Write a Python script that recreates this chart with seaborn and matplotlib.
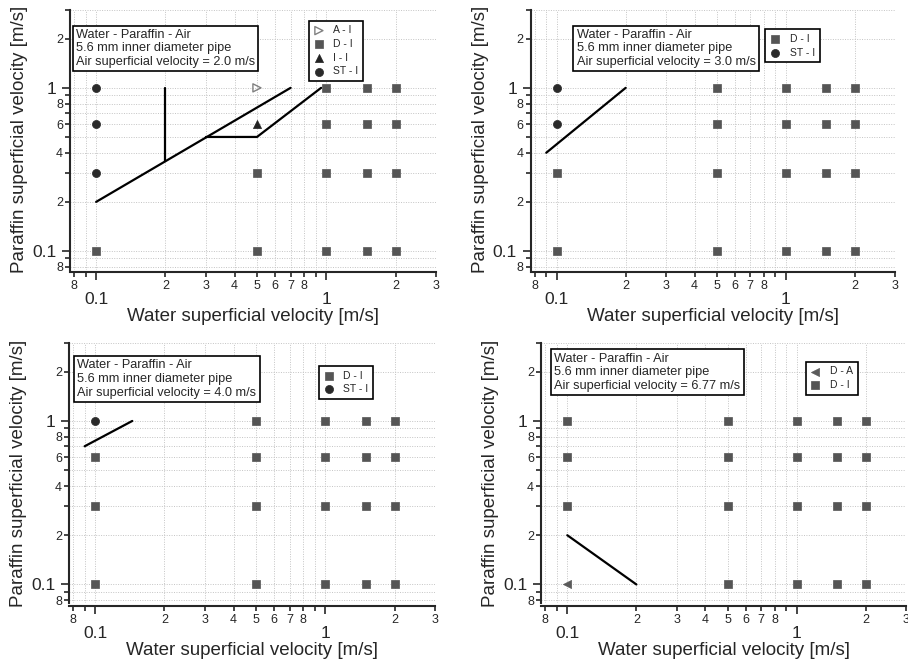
import matplotlib
matplotlib.use("Agg")
import matplotlib.pyplot as plt
import matplotlib.ticker as ticker
import seaborn as sns

# --- data (water / paraffin / air) ---
air_velocities = ["2.0", "3.0", "4.0", "6.77"]

# air = 2.0 m/s
water_a = [0.1, 0.1, 0.1, 0.5, 0.5, 0.1, 0.5, 0.5,
           1.0, 1.0, 1.0, 1.0, 1.5, 1.5, 1.5, 1.5, 2.0, 2.0, 2.0, 2.0]
paraffin_a = [0.3, 0.6, 1.0, 1.0, 0.6, 0.1, 0.1, 0.3,
              0.1, 0.3, 0.6, 1.0, 0.1, 0.3, 0.6, 1.0, 0.1, 0.3, 0.6, 1.0]
regime_a = ["ST - I", "ST - I", "ST - I", "A - I", "I - I", "D - I", "D - I", "D - I",
            "D - I", "D - I", "D - I", "D - I", "D - I", "D - I", "D - I", "D - I",
            "D - I", "D - I", "D - I", "D - I"]

# air = 3.0 m/s
water_b = [0.1, 0.1, 0.1, 0.1, 0.5, 0.5, 0.5, 0.5,
           1.0, 1.0, 1.0, 1.0, 1.5, 1.5, 1.5, 1.5, 2.0, 2.0, 2.0, 2.0]
paraffin_b = [0.6, 1.0, 0.1, 0.3, 0.1, 0.3, 0.6, 1.0,
              0.1, 0.3, 0.6, 1.0, 0.1, 0.3, 0.6, 1.0, 0.1, 0.3, 0.6, 1.0]
regime_b = ["ST - I", "ST - I"] + ["D - I"] * 18

# air = 4.0 m/s
water_c = [0.1, 0.1, 0.1, 0.1, 0.5, 0.5, 0.5, 0.5,
           1.0, 1.0, 1.0, 1.0, 1.5, 1.5, 1.5, 1.5, 2.0, 2.0, 2.0, 2.0]
paraffin_c = [1.0, 0.1, 0.3, 0.6, 0.1, 0.3, 0.6, 1.0,
              0.1, 0.3, 0.6, 1.0, 0.1, 0.3, 0.6, 1.0, 0.1, 0.3, 0.6, 1.0]
regime_c = ["ST - I"] + ["D - I"] * 19

# air = 6.77 m/s
water_d = [0.1, 0.1, 0.1, 0.1, 0.5, 0.5, 0.5, 0.5,
           1.0, 1.0, 1.0, 1.0, 1.5, 1.5, 1.5, 1.5, 2.0, 2.0, 2.0, 2.0]
paraffin_d = [0.1, 0.3, 0.6, 1.0, 0.1, 0.3, 0.6, 1.0,
              0.1, 0.3, 0.6, 1.0, 0.1, 0.3, 0.6, 1.0, 0.1, 0.3, 0.6, 1.0]
regime_d = ["D - A"] + ["D - I"] * 19

# transition boundaries (water x, paraffin y)
bounds_a = [([0.1, 0.7], [0.2, 1.0]),
            ([0.2, 0.2], [0.355, 1.0]),
            ([0.3, 0.5, 0.95], [0.5, 0.5, 1.0])]
bounds_b = [([0.09, 0.2], [0.4, 1.0])]
bounds_c = [([0.09, 0.145], [0.7, 1.0])]
bounds_d = [([0.1, 0.2], [0.2, 0.1])]

x_minor = [0.08, 0.09, 0.2, 0.3, 0.4, 0.5, 0.6, 0.7, 0.8, 0.9, 2, 3]
x_minor_labels = ["8", "", "2", "3", "4", "5", "6", "7", "8", "", "2", "3"]
y_minor = [0.08, 0.09, 0.2, 0.3, 0.4, 0.5, 0.6, 0.7, 0.8, 0.9, 2, 3]
y_minor_labels = ["8", "", "2", "", "4", "", "6", "", "8", "", "2", ""]

# marker styles per regime
styles = {
    "A - I": dict(marker=">", facecolor="none", edgecolor="#808080", linewidth=1.0),
    "D - A": dict(marker="<", facecolor="#5a5a5a", edgecolor="#5a5a5a", linewidth=0.5),
    "D - I": dict(marker="s", facecolor="#555555", edgecolor="#555555", linewidth=0.5),
    "I - I": dict(marker="^", facecolor="#222222", edgecolor="#222222", linewidth=0.5),
    "ST - I": dict(marker="o", facecolor="#2a2a2a", edgecolor="#2a2a2a", linewidth=0.5),
}

panels = [
    (water_a, paraffin_a, regime_a, bounds_a),
    (water_b, paraffin_b, regime_b, bounds_b),
    (water_c, paraffin_c, regime_c, bounds_c),
    (water_d, paraffin_d, regime_d, bounds_d),
]

# layout (figure fractions) and box/legend anchors (axes fractions)
rects = [[0.0771, 0.5935, 0.4031, 0.3914],
         [0.5845, 0.5935, 0.4012, 0.3914],
         [0.0760, 0.0905, 0.4031, 0.3922],
         [0.5961, 0.0905, 0.4020, 0.3922]]
text_pos = [(0.016, 0.928), (0.126, 0.928), (0.023, 0.938), (0.036, 0.963)]
legend_pos = [(0.653, 0.959), (0.644, 0.926), (0.683, 0.912), (0.724, 0.928)]

sns.set_style("ticks")
plt.rcParams["font.family"] = ["Liberation Sans", "DejaVu Sans"]

fig = plt.figure(figsize=(9.08, 6.63), dpi=100)

for i, (wx, py, reg, bounds) in enumerate(panels):
    ax = fig.add_axes(rects[i])
    ax.set_xscale("log")
    ax.set_yscale("log")

    # scatter each regime, legend in alphabetical order
    for name in sorted(set(reg)):
        xs = [x for x, r in zip(wx, reg) if r == name]
        ys = [y for y, r in zip(py, reg) if r == name]
        st = styles[name]
        sns.scatterplot(x=xs, y=ys, ax=ax, s=34, label=name, zorder=3, **st)

    for bx, by in bounds:
        ax.plot(bx, by, color="black", linewidth=1.6, zorder=2)

    ax.set_xlim(0.077, 3.0)
    ax.set_ylim(0.077, 3.0)

    ax.xaxis.set_major_locator(ticker.FixedLocator([0.1, 1]))
    ax.xaxis.set_major_formatter(ticker.FixedFormatter(["0.1", "1"]))
    ax.yaxis.set_major_locator(ticker.FixedLocator([0.1, 1]))
    ax.yaxis.set_major_formatter(ticker.FixedFormatter(["0.1", "1"]))
    ax.xaxis.set_minor_locator(ticker.FixedLocator(x_minor))
    ax.yaxis.set_minor_locator(ticker.FixedLocator(y_minor))
    xmap = dict(zip(x_minor, x_minor_labels))
    ymap = dict(zip(y_minor, y_minor_labels))
    ax.xaxis.set_minor_formatter(ticker.FuncFormatter(
        lambda v, p, m=xmap: min(m.items(), key=lambda kv: abs(kv[0] - v))[1]))
    ax.yaxis.set_minor_formatter(ticker.FuncFormatter(
        lambda v, p, m=ymap: min(m.items(), key=lambda kv: abs(kv[0] - v))[1]))

    ax.tick_params(axis="x", which="major", length=5.8, width=1.2, pad=8.5, labelsize=12.5)
    ax.tick_params(axis="x", which="minor", length=3.6, width=1.2, pad=2, labelsize=9)
    ax.tick_params(axis="y", which="major", length=5.8, width=1.2, pad=4, labelsize=12.5)
    ax.tick_params(axis="y", which="minor", length=3.6, width=1.2, pad=1.5, labelsize=9)

    ax.grid(True, which="both", linestyle=(0, (1, 1.5)), color="#c4c4c4", linewidth=0.7)
    ax.set_axisbelow(True)

    for side in ["top", "right"]:
        ax.spines[side].set_visible(False)
    ax.spines["left"].set_linewidth(1.5)
    ax.spines["bottom"].set_linewidth(1.5)
    ax.spines["bottom"].set_position(("outward", 2))

    ax.set_xlabel("Water superficial velocity [m/s]", fontsize=13.5)
    ax.set_ylabel("Paraffin superficial velocity [m/s]", fontsize=13.5)
    ax.xaxis.set_label_coords(0.5, -0.15)
    ax.yaxis.set_label_coords(-0.115, 0.5)

    ax.text(text_pos[i][0], text_pos[i][1],
            "Water - Paraffin - Air\n5.6 mm inner diameter pipe\n"
            f"Air superficial velocity = {air_velocities[i]} m/s",
            transform=ax.transAxes, ha="left", va="top", fontsize=9.2,
            linespacing=1.2, zorder=5,
            bbox=dict(boxstyle="square,pad=0.25", facecolor="white",
                      edgecolor="black", linewidth=1.2))

    leg = ax.legend(loc="upper left", bbox_to_anchor=legend_pos[i], fontsize=7.5,
                    frameon=True, fancybox=False, framealpha=1, edgecolor="black",
                    handlelength=1.0, handletextpad=0.9, borderpad=0.45,
                    labelspacing=0.35, borderaxespad=0)
    leg.get_frame().set_linewidth(1.2)

plt.savefig("out.png", dpi=100)
